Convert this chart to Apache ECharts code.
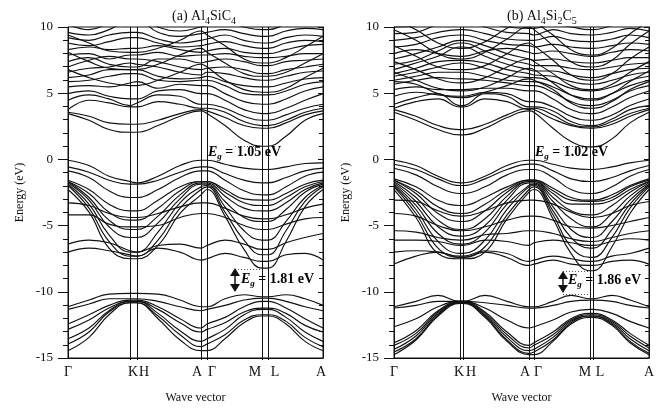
<!DOCTYPE html>
<html>
<head>
<meta charset="utf-8">
<script src="https://cdn.jsdelivr.net/npm/echarts@6/dist/echarts.min.js"></script>
<style>
  html, body { margin: 0; padding: 0; background: #fff; }
  #chart { width: 668px; height: 409px; }
</style>
</head>
<body>
<div id="chart"></div>
<script>
// k-path: Γ - K - H - A - Γ - M - L - A (x units along the path)
var kNames = ['Γ', 'K', 'H', 'A', 'Γ', 'M', 'L', 'A']
var kTicksA = [0, 62, 69, 133, 139, 194, 200, 255]
var kTicksB = [0, 66, 69, 135, 140, 196, 199, 255]
// sampled k positions where band energies were read
var kPathA = [0, 21, 41, 62, 69, 90, 112, 133, 139, 157, 176, 194, 200, 218, 237, 255]
var kPathB = [0, 22, 44, 66, 69, 91, 113, 135, 140, 159, 177, 196, 199, 218, 236, 255]

// (a) Al4SiC4 — lower valence bands (eV)
var aLower = [
  [-11.0, -10.5, -10.05, -10.0, -10.0, -10.05, -10.5, -11.0, -11.0, -10.4, -10.1, -10.25, -10.25, -10.1, -10.4, -10.9],
  [-11.2, -10.8, -10.4, -10.4, -10.4, -10.6, -11.0, -11.3, -11.2, -10.9, -10.5, -10.35, -10.35, -10.6, -11.0, -11.3],
  [-12.3, -11.6, -10.9, -10.5, -10.5, -11.0, -11.9, -12.6, -12.3, -11.8, -11.0, -10.6, -10.6, -11.1, -11.9, -12.6],
  [-12.7, -12.0, -11.1, -10.6, -10.6, -11.2, -12.2, -12.9, -12.7, -12.2, -11.4, -11.1, -11.1, -11.5, -12.4, -12.9],
  [-13.4, -12.6, -11.3, -10.6, -10.6, -11.5, -12.8, -13.6, -13.4, -12.7, -11.6, -11.2, -11.2, -11.8, -12.9, -13.6],
  [-13.8, -12.9, -11.4, -10.7, -10.7, -11.7, -13.1, -14.0, -13.8, -13.1, -12.0, -11.6, -11.6, -12.1, -13.3, -14.0],
  [-14.3, -13.3, -11.6, -10.7, -10.7, -11.9, -13.5, -14.3, -14.3, -13.4, -12.2, -11.7, -11.7, -12.3, -13.6, -14.3]
]
// (a) upper valence bands
var aValence = [
  [0, -0.4, -1.2, -1.6, -1.7, -1.2, -0.4, 0, 0, -0.3, -0.6, -0.7, -0.7, -0.5, -0.25, -0.2],
  [-0.5, -0.9, -1.5, -1.8, -1.8, -1.5, -0.9, -0.5, -0.5, -1.0, -1.5, -1.7, -1.7, -1.3, -0.8, -0.6],
  [-0.8, -1.3, -2.3, -2.8, -2.8, -2.2, -1.3, -0.8, -0.8, -1.5, -2.3, -2.6, -2.6, -2.0, -1.2, -0.9],
  [-1.5, -2.2, -3.3, -3.8, -3.8, -3.0, -2.0, -1.6, -1.6, -2.2, -2.9, -3.0, -3.0, -2.5, -1.8, -1.5],
  [-1.6, -2.5, -3.9, -4.5, -4.5, -3.6, -2.3, -1.6, -1.6, -2.4, -3.2, -3.4, -3.4, -2.8, -2.0, -1.6],
  [-1.6, -2.8, -4.5, -5.2, -5.2, -4.2, -2.6, -1.7, -1.7, -2.7, -3.6, -3.8, -3.8, -3.2, -2.2, -1.7],
  [-1.7, -3.0, -5.0, -5.8, -5.8, -4.7, -2.9, -1.8, -1.8, -3.1, -4.3, -4.6, -4.6, -3.7, -2.4, -1.8],
  [-1.8, -3.3, -5.6, -6.9, -6.9, -5.4, -3.2, -2.0, -1.9, -3.5, -5.3, -6.0, -6.0, -4.6, -2.8, -1.9],
  [-1.9, -3.6, -6.1, -7.2, -7.2, -6.0, -3.6, -2.2, -2.0, -3.9, -6.0, -7.1, -7.1, -5.3, -3.1, -2.0],
  [-2.2, -3.9, -6.6, -7.4, -7.4, -6.4, -4.0, -2.6, -2.2, -4.2, -6.7, -8.1, -8.1, -6.1, -3.5, -2.2],
  [-4.1, -4.1, -4.8, -5.0, -5.0, -4.9, -4.3, -4.0, -4.0, -4.3, -4.9, -5.2, -5.2, -4.8, -4.4, -4.3],
  [-6.3, -6.0, -6.2, -6.8, -6.9, -6.4, -6.3, -6.6, -6.4, -6.0, -6.3, -6.7, -6.7, -6.2, -5.8, -5.5],
  [-6.9, -6.6, -6.8, -7.1, -7.2, -6.6, -6.9, -7.5, -7.4, -7.0, -7.3, -7.6, -7.6, -7.1, -7.0, -7.5],
  [-3.2, -3.4, -4.0, -4.3, -4.3, -4.0, -3.5, -3.2, -3.2, -3.6, -4.2, -4.4, -4.4, -4.1, -3.6, -3.3]
]
// (a) conduction bands
var aConduction = [
  [3.5, 3.0, 2.3, 2.1, 2.1, 2.6, 3.3, 3.7, 3.5, 2.6, 1.5, 1.05, 1.05, 1.8, 3.0, 3.5],
  [3.6, 3.3, 2.8, 2.7, 2.7, 3.0, 3.5, 3.8, 3.7, 3.2, 2.6, 2.4, 2.4, 2.8, 3.4, 3.7],
  [3.8, 4.5, 4.3, 4.0, 4.0, 4.4, 4.2, 3.9, 3.9, 3.6, 2.9, 2.6, 2.6, 3.0, 3.6, 3.9],
  [4.5, 4.9, 4.6, 4.1, 4.3, 4.9, 4.8, 4.2, 4.2, 3.9, 3.3, 3.0, 3.0, 3.4, 3.9, 4.2],
  [5.0, 5.2, 4.8, 4.6, 4.6, 5.2, 5.3, 5.0, 5.0, 4.5, 3.8, 3.5, 3.5, 3.9, 4.5, 5.0],
  [5.5, 5.6, 5.5, 5.8, 5.9, 5.4, 5.7, 5.6, 5.6, 5.0, 4.4, 4.2, 4.2, 4.6, 5.2, 5.5],
  [5.9, 6.0, 6.3, 6.5, 6.5, 6.0, 5.9, 6.0, 6.0, 5.6, 5.0, 4.9, 4.9, 5.2, 5.7, 5.9],
  [6.2, 6.4, 6.8, 6.8, 6.8, 6.3, 6.1, 6.2, 6.3, 5.9, 5.6, 5.5, 5.5, 5.8, 6.1, 6.2],
  [6.6, 6.9, 7.0, 7.3, 7.2, 7.0, 6.6, 6.4, 6.6, 6.5, 6.2, 6.0, 6.0, 6.3, 6.6, 6.7],
  [7.0, 7.5, 7.8, 7.6, 7.6, 7.4, 7.0, 6.8, 6.9, 7.0, 6.8, 6.5, 6.5, 6.8, 7.0, 7.2],
  [7.4, 7.7, 7.2, 7.0, 7.0, 7.6, 7.6, 7.3, 7.4, 7.6, 7.4, 7.1, 7.1, 7.4, 7.5, 7.6],
  [7.9, 8.0, 7.6, 7.9, 7.9, 8.1, 7.8, 7.9, 7.9, 8.0, 7.8, 7.7, 7.7, 7.8, 8.0, 8.0],
  [8.3, 8.5, 8.3, 8.4, 8.4, 8.6, 8.3, 8.1, 8.2, 8.4, 8.1, 8.0, 8.0, 8.3, 8.6, 8.7],
  [8.8, 8.6, 8.9, 9.2, 9.2, 8.8, 8.5, 8.6, 8.7, 8.9, 8.6, 8.4, 8.4, 8.8, 9.0, 8.9],
  [9.2, 9.0, 9.4, 9.6, 9.6, 9.1, 8.8, 9.0, 9.1, 9.4, 9.0, 8.8, 8.8, 9.2, 9.4, 9.3],
  [9.6, 9.4, 9.8, 10.5, 10.5, 9.6, 9.3, 9.5, 9.6, 9.8, 9.5, 9.3, 9.3, 9.7, 9.9, 9.8],
  [10.2, 9.8, 10.3, 10.8, 10.8, 10.0, 9.7, 10.0, 10.1, 10.4, 10.0, 9.8, 9.8, 10.2, 10.5, 10.4],
  [6.8, 6.2, 5.8, 5.6, 5.6, 6.0, 6.6, 7.2, 7.0, 6.0, 5.3, 5.1, 5.1, 5.4, 6.2, 6.9],
  [8.1, 7.4, 6.9, 6.8, 6.8, 7.2, 7.9, 8.4, 8.1, 7.3, 6.5, 6.3, 6.3, 6.6, 7.3, 8.0],
  [9.4, 8.8, 8.2, 8.1, 8.1, 8.4, 9.0, 9.7, 9.4, 8.6, 7.6, 7.3, 7.3, 7.7, 8.5, 9.3]
]

// (b) Al4Si2C5 — lower valence bands
var bLower = [
  [-11.0, -10.6, -10.15, -10.6, -10.6, -10.15, -10.6, -11.0, -11.0, -10.6, -10.15, -10.4, -10.4, -10.15, -10.5, -11.0],
  [-11.1, -10.9, -10.6, -10.6, -10.6, -10.7, -10.9, -11.1, -11.1, -10.9, -10.6, -10.5, -10.5, -10.6, -10.9, -11.1],
  [-12.5, -11.9, -11.0, -10.6, -10.6, -11.1, -12.0, -12.6, -12.5, -12.0, -11.4, -11.2, -11.2, -11.5, -12.1, -12.6],
  [-13.7, -12.8, -11.3, -10.6, -10.6, -11.4, -12.9, -13.9, -13.7, -12.9, -11.9, -11.5, -11.5, -12.0, -13.0, -13.9],
  [-13.9, -13.0, -11.4, -10.65, -10.65, -11.5, -13.1, -14.1, -13.9, -13.1, -12.0, -11.6, -11.6, -12.1, -13.2, -14.1],
  [-14.2, -13.2, -11.5, -10.7, -10.7, -11.6, -13.3, -14.3, -14.2, -13.3, -12.1, -11.7, -11.7, -12.2, -13.4, -14.3],
  [-14.4, -13.4, -11.6, -10.7, -10.7, -11.7, -13.5, -14.5, -14.4, -13.5, -12.2, -11.7, -11.7, -12.3, -13.6, -14.5],
  [-14.6, -13.5, -11.7, -10.75, -10.75, -11.8, -13.6, -14.6, -14.6, -13.6, -12.3, -11.8, -11.8, -12.4, -13.7, -14.6]
]
// (b) upper valence bands
var bValence = [
  [0, -0.4, -1.2, -1.7, -1.7, -1.2, -0.4, 0, 0, -0.3, -0.6, -0.7, -0.7, -0.5, -0.2, 0],
  [-0.3, -0.7, -1.4, -1.9, -1.9, -1.4, -0.7, -0.3, -0.3, -0.8, -1.4, -1.6, -1.6, -1.3, -0.8, -0.4],
  [-0.6, -1.1, -2.0, -2.5, -2.5, -2.0, -1.1, -0.7, -0.7, -1.3, -2.2, -2.5, -2.5, -2.0, -1.2, -0.7],
  [-1.4, -2.0, -3.0, -3.4, -3.4, -2.8, -2.0, -1.5, -1.5, -2.1, -2.8, -3.0, -3.0, -2.6, -1.9, -1.4],
  [-1.5, -2.3, -3.5, -4.0, -4.0, -3.3, -2.2, -1.5, -1.5, -2.3, -3.0, -3.1, -3.1, -2.8, -2.0, -1.5],
  [-1.5, -2.5, -4.0, -4.6, -4.6, -3.8, -2.4, -1.6, -1.6, -2.5, -3.3, -3.3, -3.3, -3.0, -2.2, -1.6],
  [-1.6, -2.8, -4.5, -5.2, -5.2, -4.4, -2.7, -1.6, -1.6, -2.8, -3.8, -4.1, -4.1, -3.4, -2.4, -1.6],
  [-1.7, -3.1, -5.0, -5.7, -5.7, -4.9, -3.0, -1.7, -1.7, -3.1, -4.4, -5.0, -5.0, -4.0, -2.7, -1.7],
  [-1.8, -3.4, -5.5, -6.3, -6.3, -5.4, -3.3, -1.9, -1.8, -3.5, -5.2, -5.8, -5.8, -4.6, -3.0, -1.8],
  [-1.9, -3.7, -6.1, -7.0, -7.0, -6.0, -3.7, -2.0, -1.9, -3.8, -5.8, -6.6, -6.6, -5.2, -3.3, -1.9],
  [-2.0, -4.0, -6.6, -7.3, -7.3, -6.5, -4.1, -2.2, -2.0, -4.1, -6.5, -7.3, -7.3, -5.8, -3.6, -2.0],
  [-2.2, -4.3, -7.0, -7.4, -7.4, -6.9, -4.4, -2.4, -2.2, -4.4, -7.0, -8.3, -8.3, -6.5, -4.0, -2.2],
  [-3.0, -3.1, -3.8, -4.2, -4.2, -3.8, -3.2, -3.0, -3.0, -3.3, -3.9, -4.3, -4.3, -4.0, -3.4, -3.1],
  [-4.0, -4.2, -4.9, -5.3, -5.3, -5.0, -4.5, -4.2, -4.2, -4.5, -5.0, -5.1, -5.1, -4.9, -4.6, -4.3],
  [-5.3, -5.4, -5.8, -6.0, -6.0, -5.6, -5.5, -5.3, -5.3, -5.5, -5.9, -6.1, -6.1, -5.8, -5.5, -5.3],
  [-6.0, -6.0, -6.1, -6.4, -6.4, -6.0, -6.1, -6.4, -6.2, -6.0, -6.2, -6.4, -6.4, -6.1, -5.9, -6.0],
  [-6.9, -6.8, -6.9, -7.2, -7.2, -6.8, -7.0, -7.6, -7.5, -7.2, -7.4, -7.6, -7.6, -7.2, -7.0, -6.6],
  [-7.8, -7.2, -6.9, -7.3, -7.3, -6.9, -7.3, -7.9, -7.8, -7.5, -7.8, -7.9, -7.9, -7.6, -7.5, -7.8]
]
// (b) conduction bands
var bConduction = [
  [3.6, 3.0, 2.3, 1.9, 1.9, 2.4, 3.2, 3.7, 3.6, 2.4, 1.4, 1.0, 1.0, 1.6, 2.8, 3.6],
  [3.8, 3.3, 2.6, 2.3, 2.3, 2.7, 3.4, 3.9, 3.8, 3.1, 2.6, 2.4, 2.4, 2.7, 3.3, 3.8],
  [3.9, 4.4, 4.6, 4.0, 4.0, 4.6, 4.4, 3.8, 3.9, 3.4, 2.7, 2.5, 2.5, 2.9, 3.5, 3.9],
  [4.2, 4.7, 5.0, 4.1, 4.1, 5.0, 4.8, 4.0, 4.0, 3.7, 2.9, 2.6, 2.6, 3.1, 3.8, 4.1],
  [4.8, 5.1, 4.9, 4.8, 4.8, 5.1, 5.0, 4.4, 4.4, 4.0, 3.3, 3.0, 3.0, 3.4, 4.1, 4.6],
  [5.3, 5.5, 5.3, 5.3, 5.3, 5.4, 5.4, 5.2, 5.2, 4.6, 3.8, 3.5, 3.5, 4.0, 4.7, 5.2],
  [5.7, 6.0, 6.2, 6.1, 6.1, 6.0, 5.8, 5.6, 5.6, 5.1, 4.4, 4.1, 4.1, 4.5, 5.2, 5.6],
  [6.0, 6.3, 6.6, 6.6, 6.6, 6.3, 6.0, 5.9, 5.9, 5.5, 4.9, 4.6, 4.6, 5.0, 5.6, 6.0],
  [6.3, 6.6, 7.0, 7.3, 7.3, 6.9, 6.4, 6.2, 6.2, 5.9, 5.4, 5.2, 5.2, 5.5, 6.0, 6.3],
  [6.5, 6.9, 7.4, 7.5, 7.5, 7.3, 6.8, 6.5, 6.4, 6.3, 5.9, 5.7, 5.7, 6.0, 6.4, 6.6],
  [6.8, 7.3, 7.8, 8.5, 8.5, 7.8, 7.2, 6.8, 6.7, 6.7, 6.4, 6.2, 6.2, 6.5, 6.8, 6.9],
  [7.2, 7.5, 8.2, 8.8, 8.8, 8.2, 7.6, 7.2, 7.1, 7.1, 6.9, 6.8, 6.8, 7.0, 7.2, 7.3],
  [7.6, 8.0, 8.5, 9.0, 9.0, 8.6, 8.0, 7.6, 7.5, 7.6, 7.4, 7.3, 7.3, 7.5, 7.7, 7.7],
  [8.0, 8.3, 8.0, 7.8, 7.8, 8.2, 8.4, 8.1, 8.0, 8.2, 8.0, 7.8, 7.8, 8.1, 8.3, 8.2],
  [8.5, 8.7, 9.2, 9.4, 9.4, 9.0, 8.7, 8.6, 8.5, 8.7, 8.5, 8.4, 8.4, 8.6, 8.8, 8.7],
  [9.0, 9.2, 9.6, 9.8, 9.8, 9.5, 9.1, 9.0, 9.0, 9.3, 9.0, 8.9, 8.9, 9.1, 9.4, 9.2],
  [9.5, 9.6, 10.2, 10.5, 10.5, 10.0, 9.6, 9.5, 9.4, 9.8, 9.5, 9.4, 9.4, 9.6, 9.9, 9.7],
  [10.0, 10.1, 10.5, 10.8, 10.8, 10.4, 10.0, 9.9, 9.9, 10.2, 10.0, 9.8, 9.8, 10.1, 10.3, 10.1],
  [6.6, 6.0, 5.4, 5.2, 5.2, 5.5, 6.2, 6.9, 6.8, 5.8, 4.9, 4.5, 4.5, 5.0, 5.9, 6.7],
  [7.4, 6.8, 6.1, 5.8, 5.8, 6.2, 7.0, 7.6, 7.4, 6.5, 5.6, 5.3, 5.3, 5.7, 6.6, 7.4],
  [8.6, 7.8, 7.0, 6.8, 6.8, 7.1, 8.0, 8.8, 8.6, 7.5, 6.4, 6.0, 6.0, 6.5, 7.6, 8.5],
  [9.8, 9.0, 8.0, 7.6, 7.6, 8.1, 9.1, 10.0, 9.8, 8.6, 7.4, 7.0, 7.0, 7.5, 8.7, 9.7],
  [10.5, 9.8, 8.8, 8.4, 8.4, 8.9, 9.9, 10.6, 10.4, 9.4, 8.3, 7.9, 7.9, 8.4, 9.5, 10.4],
  [5.9, 5.7, 5.0, 4.7, 4.7, 5.1, 5.6, 6.1, 6.0, 5.3, 4.3, 3.9, 3.9, 4.4, 5.3, 5.9]
]

// band gap annotations: energy levels of the dotted guides, and the labels
var gapLevelsA = [1.05, -8.2]
var gapLevelsB = [1.02, -8.3, -10.1]
var gapTextA = ['1.05 eV', '1.81 eV']
var gapTextB = ['1.02 eV', '1.86 eV']

var serif = 'Liberation Serif'
var ink = '#111'
var shiftA = [0, 3, 7, -4, 5, -7, 7, -2]
var shiftB = [0, -1, 8, -4, 4, -5, 7, 0]
var gridRects = [
  { left: 68, top: 27, width: 255, height: 333 },
  { left: 394, top: 27, width: 255, height: 333 }
]

// decorated axes (frame, ticks, labels) live on grids 0/1,
// the bands are drawn on plain overlay grids 2/3 with the same rect and scale
function xAxisFor(grid, ticks, shift) {
  var labelPos = ticks.map(function(t, i) { return t + shift[i] })
  return {
    gridIndex: grid,
    type: 'value',
    min: 0,
    max: 255,
    axisLine: { show: true, onZero: false, lineStyle: { color: ink, width: 1 } },
    axisTick: { show: false },
    splitLine: { show: false },
    axisLabel: {
      customValues: labelPos,
      color: ink,
      fontFamily: serif,
      fontSize: 14,
      margin: 7,
      formatter: function(v) {
        for (var i = 0; i < labelPos.length; i++) {
          if (Math.abs(labelPos[i] - v) < 0.5) return kNames[i]
        }
        return ''
      }
    },
    name: 'Wave vector',
    nameLocation: 'middle',
    nameGap: 34,
    nameTextStyle: { color: ink, fontFamily: serif, fontSize: 12 }
  }
}

function yAxesFor(grid) {
  return [{
    gridIndex: grid,
    type: 'value',
    min: -15,
    max: 10,
    interval: 5,
    axisLine: { show: true, onZero: false, lineStyle: { color: ink, width: 1 } },
    axisTick: { show: true, length: 10, lineStyle: { color: ink } },
    minorTick: { show: true, splitNumber: 5, length: 5, lineStyle: { color: ink } },
    splitLine: { show: false },
    axisLabel: { color: ink, fontFamily: serif, fontSize: 13, margin: 15 },
    name: 'Energy (eV)',
    nameLocation: 'middle',
    nameRotate: 90,
    nameGap: 42,
    nameTextStyle: { color: ink, fontFamily: serif, fontSize: 12 }
  }, {
    gridIndex: grid,
    type: 'value',
    position: 'right',
    min: -15,
    max: 10,
    interval: 5,
    axisLine: { show: true, onZero: false, lineStyle: { color: ink, width: 1 } },
    axisTick: { show: true, inside: true, length: 5, lineStyle: { color: ink } },
    minorTick: { show: true, splitNumber: 5, length: 4, lineStyle: { color: ink } },
    splitLine: { show: false },
    axisLabel: { show: false }
  }]
}

function plainX(grid) {
  return { gridIndex: grid, type: 'value', min: 0, max: 255, show: false }
}
function plainY(grid) {
  return { gridIndex: grid, type: 'value', min: -15, max: 10, show: false }
}

function bandLine(xi, yi, kPath, band) {
  return {
    type: 'line',
    xAxisIndex: xi,
    yAxisIndex: yi,
    data: kPath.map(function(x, i) { return [x, band[i]] }),
    showSymbol: false,
    smooth: 0.45,
    lineStyle: { color: ink, width: 1.15 }
  }
}

function panelSeries(xi, yi, kPath, groups, ticks, levels) {
  var out = []
  groups.forEach(function(g) {
    g.forEach(function(b) { out.push(bandLine(xi, yi, kPath, b)) })
  })
  // vertical lines at the high-symmetry points
  out[0].markLine = {
    silent: true,
    symbol: 'none',
    label: { show: false },
    lineStyle: { color: ink, width: 1, type: 'solid' },
    data: ticks.slice(1, -1).map(function(x) { return { xAxis: x } })
  }
  // dotted guide lines for the gap annotations
  var x0 = ticks[5] - 27
  var x1 = ticks[5]
  out[1].markLine = {
    silent: true,
    symbol: 'none',
    label: { show: false },
    lineStyle: { color: '#555', width: 1, type: [1, 2] },
    data: levels.map(function(e) {
      return [{ coord: [x0, e] }, { coord: [x1, e] }]
    })
  }
  return out
}

var richGap = {
  i: { fontFamily: serif, fontStyle: 'italic', fontWeight: 'bold', fontSize: 14, color: ink },
  g: { fontFamily: serif, fontStyle: 'italic', fontWeight: 'bold', fontSize: 9, color: ink, verticalAlign: 'bottom', lineHeight: 18 },
  t: { fontFamily: serif, fontWeight: 'bold', fontSize: 14, color: ink }
}

function gapText(x, y, txt) {
  return { type: 'text', left: x, top: y, z: 10, style: { text: '{i|E}{g|g}{t| = ' + txt + '}', rich: richGap } }
}

function arrowParts(x, y0, y1) {
  return [
    { type: 'line', z: 10, shape: { x1: x, y1: y0 + 5, x2: x, y2: y1 - 5 }, style: { stroke: ink, lineWidth: 1.5 } },
    { type: 'polygon', z: 10, shape: { points: [[x - 5, y0 + 8], [x, y0], [x + 5, y0 + 8]] }, style: { fill: ink } },
    { type: 'polygon', z: 10, shape: { points: [[x - 5, y1 - 8], [x, y1], [x + 5, y1 - 8]] }, style: { fill: ink } }
  ]
}

var titleRich = {
  s: { fontFamily: serif, fontSize: 10, color: ink, verticalAlign: 'bottom', lineHeight: 19 }
}

var chart = echarts.init(document.getElementById('chart'), null, { renderer: 'canvas' })

chart.setOption({
  animation: false,
  title: [
    { text: '(a) Al{s|4}SiC{s|4}', left: 167, top: 2, textStyle: { fontFamily: serif, fontSize: 14, fontWeight: 'normal', color: ink, rich: titleRich } },
    { text: '(b) Al{s|4}Si{s|2}C{s|5}', left: 502, top: 2, textStyle: { fontFamily: serif, fontSize: 14, fontWeight: 'normal', color: ink, rich: titleRich } }
  ],
  grid: [
    Object.assign({ show: true, borderColor: ink, borderWidth: 1 }, gridRects[0]),
    Object.assign({ show: true, borderColor: ink, borderWidth: 1 }, gridRects[1]),
    Object.assign({}, gridRects[0]),
    Object.assign({}, gridRects[1])
  ],
  xAxis: [xAxisFor(0, kTicksA, shiftA), xAxisFor(1, kTicksB, shiftB), plainX(2), plainX(3)],
  // y axes: 0,1 panel (a) left/right; 2,3 panel (b) left/right; 4,5 overlay
  yAxis: yAxesFor(0).concat(yAxesFor(1)).concat([plainY(2), plainY(3)]),
  series: panelSeries(2, 4, kPathA, [aValence, aLower, aConduction], kTicksA, gapLevelsA)
    .concat(panelSeries(3, 5, kPathB, [bValence, bLower, bConduction], kTicksB, gapLevelsB)),
  graphic: [
    gapText(208, 145, gapTextA[0]),
    gapText(241, 272, gapTextA[1]),
    gapText(535, 145, gapTextB[0]),
    gapText(568, 273, gapTextB[1])
  ].concat(arrowParts(235, 268, 292)).concat(arrowParts(563, 271, 293))
})
</script>
</body>
</html>
